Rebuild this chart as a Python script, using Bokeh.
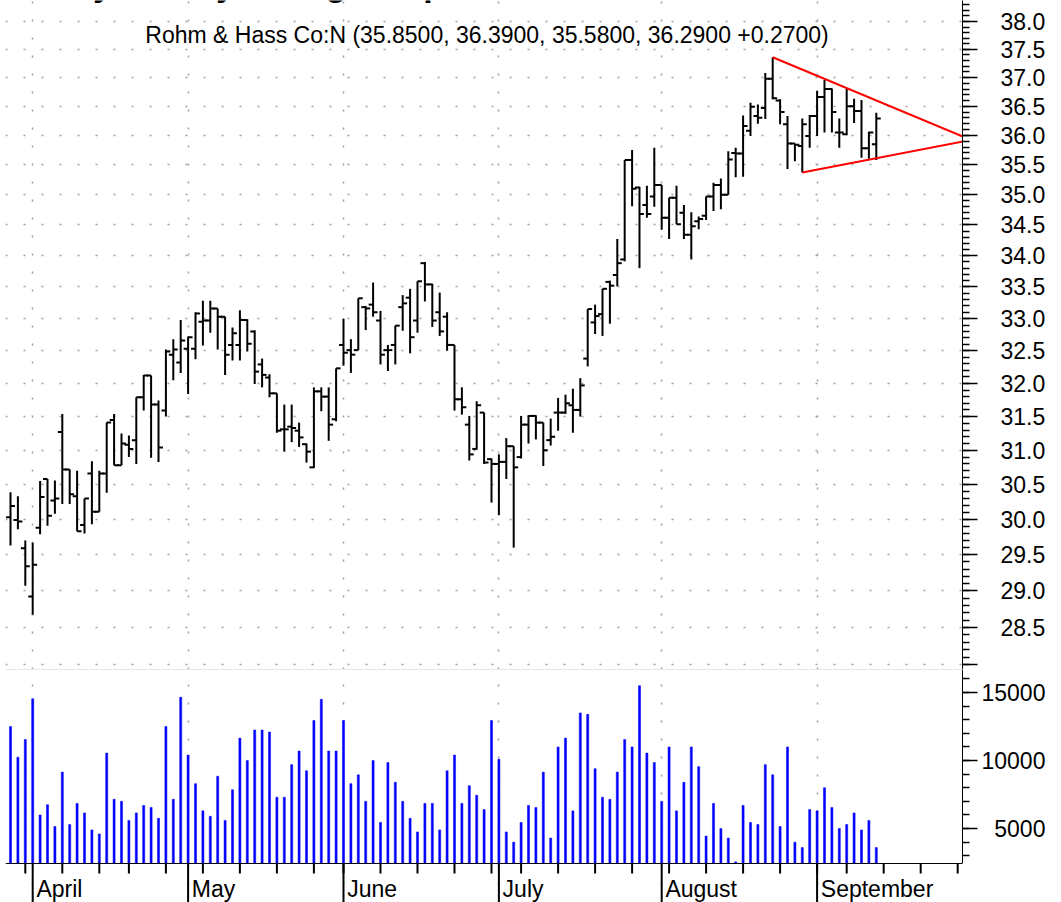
import numpy as np
import pandas as pd
from bokeh.plotting import figure
from bokeh.layouts import column
from bokeh.models import (ColumnDataSource, FixedTicker, Range1d, Span, Label,
                          PrintfTickFormatter)
from bokeh.core.properties import value
from bokeh.embed import file_html
from bokeh.resources import INLINE

FONT = "Liberation Sans"
FS = "23px"

# ---------------- data ----------------
opens = [30.03, 29.99, 29.59, 28.92, 29.88, 30.58, 30.27, 31.27, 30.72, 30.33,
         29.92, 30.66, 30.11, 30.66, 31.45, 30.78, 31.08, 31.15, 31.79, 32.12,
         31.68, 31.59, 32.44, 32.32, 32.53, 32.53, 32.95, 32.97, 33.16, 33.03,
         32.59, 32.59, 32.98, 32.80, 32.29, 32.09, 31.85, 31.31, 31.35, 31.29,
         31.09, 30.75, 31.88, 31.80, 31.46, 32.59, 32.51, 32.51, 33.18, 33.22,
         32.97, 32.51, 32.59, 33.18, 33.33, 32.97, 33.88, 33.54, 33.10, 33.03,
         32.59, 31.76, 31.38, 31.02, 31.56, 30.87, 30.80, 30.83, 31.06, 30.90,
         31.38, 31.51, 31.41, 31.15, 31.56, 31.56, 31.67, 31.60, 32.38, 32.94,
         33.07, 33.58, 33.69, 33.94, 35.58, 35.12, 34.83, 34.97, 35.16, 34.62,
         34.95, 34.70, 34.34, 34.56, 34.65, 34.97, 35.16, 35.00, 35.70, 35.69,
         36.08, 36.33, 36.47, 36.98, 36.60, 36.19, 35.86, 35.82, 35.99, 36.33,
         36.66, 36.80, 36.05, 36.02, 36.50, 36.42, 35.78, 35.85]
highs = [30.39, 30.33, 29.70, 29.67, 30.55, 30.58, 30.56, 31.54, 30.72, 30.70,
         30.30, 30.84, 30.70, 31.41, 31.54, 31.25, 31.22, 31.79, 32.13, 32.12,
         31.74, 32.52, 32.68, 32.98, 32.72, 33.10, 33.28, 33.28, 33.16, 33.03,
         32.86, 33.13, 32.99, 32.82, 32.38, 32.14, 31.85, 31.68, 31.68, 31.41,
         31.10, 31.94, 31.94, 31.94, 32.23, 33.00, 32.68, 33.32, 33.20, 33.57,
         33.12, 32.59, 32.89, 33.37, 33.47, 33.59, 33.90, 33.55, 33.41, 33.10,
         32.59, 31.94, 31.51, 31.73, 31.56, 30.88, 30.94, 31.18, 31.06, 31.51,
         31.52, 31.52, 31.41, 31.47, 31.78, 31.83, 31.92, 32.08, 33.15, 33.22,
         33.47, 33.60, 34.27, 35.58, 35.75, 35.13, 35.15, 35.79, 35.16, 34.95,
         35.15, 34.83, 34.71, 34.64, 34.97, 35.20, 35.27, 35.73, 35.79, 36.34,
         36.56, 36.53, 37.08, 37.36, 36.62, 36.33, 35.86, 36.29, 36.35, 36.77,
         36.96, 36.81, 36.29, 36.80, 36.63, 36.61, 36.06, 36.39]
lows = [29.63, 29.86, 29.07, 28.67, 29.79, 29.91, 30.08, 30.22, 30.22, 29.83,
        29.80, 29.93, 30.11, 30.38, 30.78, 30.78, 30.90, 30.80, 31.59, 30.89,
        30.83, 31.50, 32.05, 32.16, 31.84, 32.37, 32.58, 32.78, 32.52, 32.13,
        32.35, 32.35, 32.49, 31.99, 31.94, 31.79, 31.26, 30.98, 31.12, 31.05,
        30.82, 30.74, 31.58, 31.14, 31.43, 32.27, 32.16, 32.51, 32.82, 33.03,
        32.29, 32.19, 32.29, 32.81, 32.46, 32.78, 33.27, 32.87, 32.73, 32.50,
        31.59, 31.53, 30.85, 31.01, 30.80, 30.24, 30.06, 30.58, 29.60, 30.88,
        31.10, 31.16, 30.77, 31.07, 31.29, 31.54, 31.26, 31.50, 32.26, 32.76,
        32.73, 32.92, 33.51, 33.91, 34.81, 33.80, 34.62, 34.80, 34.42, 34.27,
        34.51, 34.27, 33.94, 34.43, 34.58, 34.73, 34.76, 35.00, 35.29, 35.30,
        35.99, 36.20, 36.28, 36.62, 36.19, 35.43, 35.56, 35.37, 35.79, 35.99,
        36.05, 36.05, 35.79, 36.00, 36.21, 35.62, 35.60, 35.58]
closes = [30.19, 29.97, 29.34, 29.36, 30.32, 30.05, 30.30, 30.72, 30.36, 29.83,
          30.30, 30.11, 30.66, 31.41, 30.78, 31.10, 31.02, 31.79, 32.12, 31.68,
          31.04, 32.49, 32.52, 32.66, 32.71, 33.08, 32.97, 33.16, 33.03, 32.44,
          32.77, 32.98, 32.61, 32.18, 32.13, 31.85, 31.29, 31.31, 31.33, 31.19,
          30.98, 31.88, 31.80, 31.38, 32.23, 32.47, 32.44, 33.32, 33.16, 33.10,
          32.44, 32.51, 32.89, 33.24, 32.71, 33.59, 33.54, 32.97, 32.80, 32.59,
          31.76, 31.64, 30.94, 31.67, 30.82, 30.80, 30.83, 31.06, 30.75, 31.38,
          31.51, 31.41, 31.00, 31.20, 31.56, 31.70, 31.60, 31.97, 33.15, 33.04,
          33.47, 33.52, 33.88, 35.58, 35.10, 34.68, 34.68, 35.16, 34.62, 34.95,
          34.51, 34.34, 34.48, 34.60, 34.97, 35.16, 35.00, 35.59, 35.69, 36.16,
          36.49, 36.30, 36.98, 36.64, 36.40, 35.86, 35.84, 36.19, 36.33, 36.66,
          36.80, 36.40, 36.05, 36.50, 36.42, 35.78, 36.05, 36.29]
volumes = [12500, 10250, 11550, 14550, 6000, 6750, 5150, 9150, 5300, 6850,
           6150, 4900, 4600, 10550, 7150, 7000, 5600, 6150, 6700, 6550,
           5750, 12500, 7150, 14650, 10400, 8300, 6300, 5900, 8850, 5600,
           7850, 11650, 10000, 12250, 12250, 12100, 7300, 7300, 9700, 10700,
           9250, 12950, 14500, 10700, 10700, 12950, 8300, 8950, 7000, 10000,
           5450, 9850, 8400, 7000, 5750, 4750, 6850, 6850, 4900, 9250,
           10400, 6850, 8150, 7450, 6400, 12950, 10100, 4750, 4000, 5450,
           6700, 6550, 9150, 4300, 11000, 11650, 6300, 13500, 13400, 9400,
           7300, 7150, 9150, 11550, 11000, 15500, 10550, 9850, 7000, 11000,
           6300, 8400, 11000, 9550, 4450, 6850, 5000, 4300, 2550, 6700,
           5450, 5300, 9700, 8950, 5150, 11000, 4000, 3600, 6400, 6300,
           8000, 6550, 5000, 5300, 6150, 4900, 5600, 3600]

HEADLINE = "Symmetry Triangle Top"
TITLE = "Rohm & Hass Co:N (35.8500, 36.3900, 35.5800, 36.2900 +0.2700)"
HOLIDAYS = ["2003-04-18", "2003-05-26", "2003-07-04", "2003-09-01"]

# triangle trend lines (bar index, price)
upper_line_x = [103, 129.8]
upper_line_y = [37.36, 35.92]
lower_line_x = [107, 129.8]
lower_line_y = [35.37, 35.92]

price_major = [28.5 + 0.5 * i for i in range(20)]
price_minor = [round(28.0 + 0.1 * i, 1) for i in range(0, 104)]
price_grid = [28.0 + 0.5 * i for i in range(21)]
vol_major = [5000, 10000, 15000]
vol_minor = list(range(3000, 17000, 1000))

# ---------------- calendar / index axis ----------------
days = pd.bdate_range("2003-03-27", "2003-10-10")
days = days[~days.isin(pd.to_datetime(HOLIDAYS))]
n = len(closes)
idx = np.arange(n)

month_ticks, month_names, week_ticks = [], [], []
for i in range(1, len(days)):
    if days[i].month != days[i - 1].month:
        month_ticks.append(i)
        month_names.append(days[i].strftime("%B"))
    if days[i].weekday() < days[i - 1].weekday():
        week_ticks.append(i)

X0, X1 = -0.676, 128.65
P0, P1 = 27.936, 38.380
V0, V1 = -438.0, 16695.0
VOL_BASE = 2430.0
PRICE_H, VOL_H = 669, 233
W = 1061

month_ticks_in = [m for m in month_ticks if m < X1]
month_names_in = [month_names[k] for k, m in enumerate(month_ticks) if m < X1]
week_ticks_in = [w for w in week_ticks if w < X1]

x_range = Range1d(X0, X1)

# ---------------- price panel ----------------
p = figure(width=W, height=PRICE_H, x_range=x_range, y_range=Range1d(P0, P1),
           y_axis_type="log", x_axis_location=None, y_axis_location="right",
           toolbar_location=None, output_backend="svg",
           min_border_left=5, min_border_right=99, min_border_top=0, min_border_bottom=0,
           outline_line_color=None, background_fill_color="white", border_fill_color="white")

src = ColumnDataSource(dict(x=idx, o=opens, h=highs, l=lows, c=closes,
                            xl=idx - 0.6, xr=idx + 0.6))
p.segment(x0="x", y0="l", x1="x", y1="h", source=src, line_color="black", line_width=2)
p.segment(x0="xl", y0="o", x1="x", y1="o", source=src, line_color="black", line_width=2)
p.segment(x0="x", y0="c", x1="xr", y1="c", source=src, line_color="black", line_width=2)

p.line(upper_line_x, upper_line_y, line_color="#ff0000", line_width=2)
p.line(lower_line_x, lower_line_y, line_color="#ff0000", line_width=2)

p.xgrid.ticker = FixedTicker(ticks=month_ticks_in)
p.ygrid.ticker = FixedTicker(ticks=price_grid)
for g in (p.xgrid[0], p.ygrid[0]):
    g.grid_line_color = "#a0a0a0"
    g.grid_line_dash = "2 16"
    g.grid_line_width = 1.5

ax = p.yaxis[0]
ax.ticker = FixedTicker(ticks=price_major + [28.0], minor_ticks=price_minor)
ax.formatter = PrintfTickFormatter(format="%.1f")
ax.major_label_overrides = {28.0: ""}
ax.major_tick_in = 0
ax.major_tick_out = 15
ax.minor_tick_in = 0
ax.minor_tick_out = 7
ax.major_tick_line_width = 1.5
ax.minor_tick_line_width = 1.5
ax.axis_line_width = 1
ax.major_label_standoff = 23
ax.major_label_text_font = FONT
ax.major_label_text_font_size = FS
ax.major_label_text_color = "black"

# headline mostly above the visible page (only its descenders show), and the quote line
p.add_layout(Label(x=8.1, y=38.673, text=HEADLINE, text_align="left",
                   text_baseline="alphabetic", text_font=FONT, text_font_size="34px",
                   text_font_style="bold", text_color="black"))
p.add_layout(Label(x=64.4, y=37.75, text=TITLE, text_align="center",
                   text_baseline="alphabetic", text_font=FONT, text_font_size=FS,
                   text_color="black"))

# ---------------- volume panel ----------------
pv = figure(width=W, height=VOL_H, x_range=x_range, y_range=Range1d(V0, V1),
            x_axis_location=None, y_axis_location="right",
            toolbar_location=None, output_backend="svg",
            min_border_left=5, min_border_right=99, min_border_top=0, min_border_bottom=0,
            outline_line_color=None, background_fill_color="white", border_fill_color="white")

units_per_px = (V1 - V0) / VOL_H

pv.vbar(x=idx, top=volumes, bottom=VOL_BASE, width=0.28, fill_color="#0000ff",
        line_color="#0000ff", line_width=0.5)

pv.xgrid.ticker = FixedTicker(ticks=month_ticks_in)
pv.xgrid.grid_line_color = "#a0a0a0"
pv.xgrid.grid_line_dash = "2 16"
pv.xgrid.grid_line_width = 1.5
pv.ygrid.visible = False

vax = pv.yaxis[0]
vax.bounds = (VOL_BASE, V1)
vax.ticker = FixedTicker(ticks=vol_major, minor_ticks=vol_minor)
vax.major_label_overrides = {v: ("\u2007" if v < 10000 else "") + str(v) for v in vol_major}
vax.major_tick_in = 0
vax.major_tick_out = 15
vax.minor_tick_in = 0
vax.minor_tick_out = 7
vax.major_tick_line_width = 1.5
vax.minor_tick_line_width = 1.5
vax.major_label_standoff = 4
vax.major_label_text_font = FONT
vax.major_label_text_font_size = FS
vax.major_label_text_color = "black"

# separator between panels and the date axis line
pv.add_layout(Span(location=V1, dimension="width", line_color="#cccccc", line_width=1))
pv.add_layout(Span(location=VOL_BASE, dimension="width", line_color="black", line_width=1))

# date axis: month ticks (long), weekly ticks (short), month names
pv.segment(x0=month_ticks_in, y0=[VOL_BASE] * len(month_ticks_in),
           x1=month_ticks_in, y1=[V0 - 2000] * len(month_ticks_in),
           line_color="black", line_width=2)
pv.segment(x0=week_ticks_in, y0=[VOL_BASE] * len(week_ticks_in),
           x1=week_ticks_in, y1=[VOL_BASE - 10 * units_per_px] * len(week_ticks_in),
           line_color="black", line_width=2)
pv.text(x=[m + 0.5 for m in month_ticks_in],
        y=[VOL_BASE - 26 * units_per_px] * len(month_ticks_in),
        text=month_names_in, text_font=value(FONT), text_font_size=FS,
        text_align="left", text_baseline="alphabetic", text_color="black")

layout = column(p, pv, spacing=0)
open("out.html", "w").write(file_html(layout, INLINE, "Rohm & Hass"))
